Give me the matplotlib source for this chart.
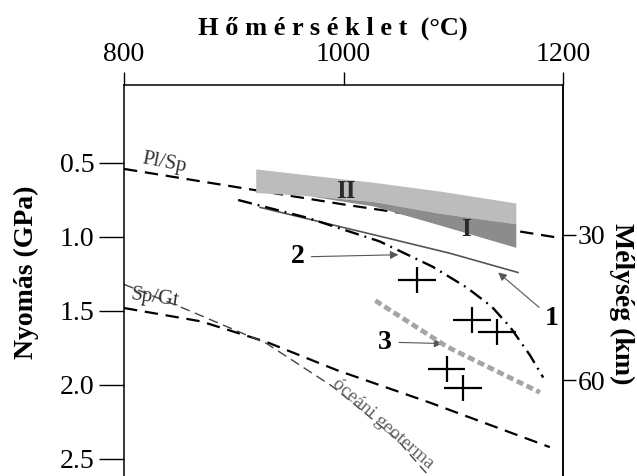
import matplotlib
matplotlib.use("Agg")
import matplotlib.pyplot as plt

plt.rcParams['font.family'] = ['Liberation Serif', 'DejaVu Serif']

# Pl/Sp reaction (T in C, P in GPa)
plsp_t = [800, 900, 1000, 1100, 1200]
plsp_p = [0.54, 0.66, 0.78, 0.89, 1.01]

# Sp/Gt reaction
spgt_t = [800, 870, 930, 994, 1079, 1188]
spgt_p = [1.48, 1.57, 1.71, 1.90, 2.12, 2.42]

# oceanic geotherm
ocean_t = [800, 857, 930, 990, 1018, 1049, 1070, 1081]
ocean_p = [1.32, 1.49, 1.72, 2.01, 2.18, 2.37, 2.55, 2.64]

# curve 1 (thin solid)
line1_t = [924, 1036, 1097, 1159]
line1_p = [0.80, 1.00, 1.11, 1.24]

# curve 2 (dash-dot)
line2_t = [904, 967, 1033, 1081, 1112, 1135, 1152, 1170, 1182]
line2_p = [0.75, 0.87, 1.03, 1.20, 1.34, 1.47, 1.61, 1.80, 1.95]

# curve 3 (grey dotted)
line3_t = [1029, 1094, 1124, 1179]
line3_p = [1.43, 1.74, 1.85, 2.05]

# fields I and II
band_t = [920, 967, 1027, 1088, 1157]
band_top = [0.54, 0.58, 0.63, 0.69, 0.77]
band_mid = [0.70, 0.72, 0.76, 0.84, 0.91]
band_bot = [0.70, 0.72, 0.79, 0.92, 1.07]

# samples with error crosses
cross_t = [1067, 1117, 1140, 1094, 1109]
cross_p = [1.29, 1.56, 1.64, 1.89, 2.02]
cross_terr = 17
cross_perr = 0.088

t_ticks = [800, 1000, 1200]
p_ticks = [0.5, 1.0, 1.5, 2.0, 2.5]
depth_ticks = [30, 60]
KM_PER_GPA = 30.5

fig = plt.figure(figsize=(6.37, 4.76), dpi=100)
ax = fig.add_axes([124 / 637, 0, (563 - 124) / 637, (476 - 85) / 476])

ax.set_xlim(800, 1200)
ax.set_ylim(2.615, -0.027)

ax.fill_between(band_t, band_top, band_mid, color='#bcbcbc', lw=0, zorder=3)
ax.fill_between(band_t, band_mid, band_bot, color='#8c8c8c', lw=0, zorder=3)

ax.plot(plsp_t, plsp_p, color='black', lw=1.6, dashes=(6, 3.5), zorder=2)
ax.plot(spgt_t, spgt_p, color='black', lw=1.6, dashes=(6, 3.5), zorder=2)
ax.plot(ocean_t, ocean_p, color='#444444', lw=1.0, dashes=(7, 4), zorder=2)
ax.plot(line1_t, line1_p, color='#555555', lw=1.2, zorder=4)
ax.plot(line2_t, line2_p, color='black', lw=1.7, dashes=(6, 2.5, 0.8, 2.5), zorder=4)
ax.plot(line3_t, line3_p, color='#a5a5a5', lw=3.4, dashes=(1.5, 0.8), zorder=4)

ax.errorbar(cross_t, cross_p, xerr=cross_terr, yerr=cross_perr, fmt='none',
            ecolor='black', elinewidth=1.6, capsize=0, zorder=5)

ax.text(1002, 0.69, 'II', fontsize=18, fontweight='bold', color='#2a2a2a',
        ha='center', va='center', zorder=6)
ax.text(1112, 0.95, 'I', fontsize=18, fontweight='bold', color='#2a2a2a',
        ha='center', va='center', zorder=6)

ax.text(837, 0.50, 'Pl/Sp', fontsize=15, color='#333333', rotation=-11,
        ha='center', va='center')
ax.text(828, 1.41, 'Sp/Gt', fontsize=15, color='#333333', rotation=-8,
        ha='center', va='center')
ax.text(1036, 2.26, 'óceáni geoterma', fontsize=14, color='#666666',
        rotation=-41, ha='center', va='center')

arrow = dict(arrowstyle='-|>', color='#555555', lw=0.8, mutation_scale=12,
             shrinkA=3, shrinkB=0)
ax.annotate('2', xy=(1050, 1.12), xytext=(958, 1.135), fontsize=20,
            fontweight='bold', ha='center', va='center', arrowprops=arrow)
ax.annotate('1', xy=(1141, 1.24), xytext=(1190, 1.55), fontsize=20,
            fontweight='bold', ha='center', va='center', arrowprops=arrow)
ax.annotate('3', xy=(1090, 1.72), xytext=(1038, 1.71), fontsize=20,
            fontweight='bold', ha='center', va='center', arrowprops=arrow)

ax.xaxis.tick_top()
ax.set_xticks(t_ticks)
ax.set_xticklabels([str(t) for t in t_ticks])
ax.set_yticks(p_ticks)
ax.set_yticklabels([f'{p:.1f}' for p in p_ticks])
ax.tick_params(axis='x', direction='out', length=9.5, width=1, pad=3.5,
               labelsize=20)
ax.tick_params(axis='y', direction='out', length=18, width=1, pad=3.5,
               labelsize=20)
ax.spines['bottom'].set_visible(False)
for s in ['left', 'top', 'right']:
    ax.spines[s].set_linewidth(1.1)

sec = ax.secondary_yaxis('right', functions=(lambda p: p * KM_PER_GPA,
                                             lambda d: d / KM_PER_GPA))
sec.set_yticks(depth_ticks)
sec.set_yticklabels([str(d) for d in depth_ticks])
sec.tick_params(direction='out', length=9, width=1, pad=1.5, labelsize=20)
sec.spines['right'].set_linewidth(1.1)

fig.text(0.523, 0.941, 'H ő m é r s é k l e t  (°C)', fontsize=19,
         fontweight='bold', ha='center', va='center')
fig.text(0.042, 0.428, 'Nyomás (GPa)', fontsize=20, fontweight='bold',
         rotation=90, ha='center', va='center')
fig.text(0.976, 0.361, 'Mélység (km)', fontsize=20, fontweight='bold',
         rotation=-90, ha='center', va='center')

fig.savefig('out.png', dpi=100)
